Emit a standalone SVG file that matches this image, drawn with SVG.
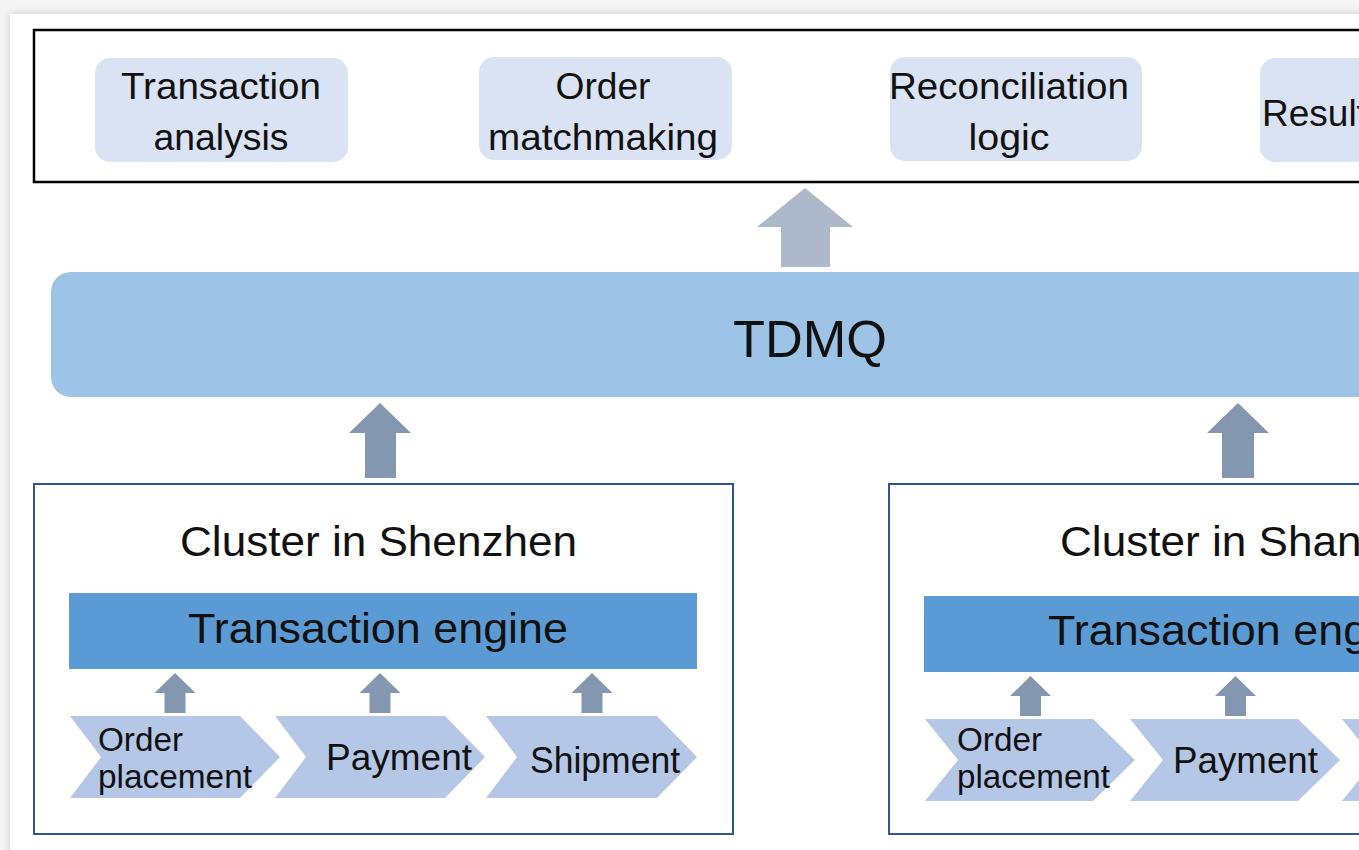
<svg xmlns="http://www.w3.org/2000/svg" width="1359" height="850" viewBox="0 0 1359 850">
<defs>
<filter id="shadow" x="-5%" y="-5%" width="110%" height="110%">
<feGaussianBlur in="SourceAlpha" stdDeviation="4"/>
<feOffset dx="0" dy="0" result="b"/>
<feComponentTransfer><feFuncA type="linear" slope="0.18"/></feComponentTransfer>
<feMerge><feMergeNode/><feMergeNode in="SourceGraphic"/></feMerge>
</filter>
</defs>
<style>
text{font-family:"Liberation Sans","Noto Sans",Arial,sans-serif;fill:#111;}
.top{fill:#dae3f3;}
.tl{font-size:37px;text-anchor:middle;}
.cluster{fill:#fff;stroke:#2f5597;stroke-width:2;}
.engine{fill:#5b9bd5;}
.chev{fill:#b4c7e7;}
.arrS{fill:#8497b0;}
.arrT{fill:#adb9ca;}
.ct{font-size:42px;}
.et{font-size:42px;}
.lb{font-size:36px;}
.lbs{font-size:33px;}
</style>
<rect x="0" y="0" width="1359" height="850" fill="#f4f4f4"/>
<rect x="10" y="14" width="1420" height="900" fill="#ffffff" filter="url(#shadow)"/>

<g id="app-layer">
<rect x="34" y="30" width="1400" height="152" fill="#fff" stroke="#000" stroke-width="2.5"/>
</g>
<g id="transaction-analysis">
<rect class="top" x="95" y="58" width="253" height="104" rx="15"/>
<text class="tl" x="221" y="99" textLength="200" lengthAdjust="spacingAndGlyphs">Transaction</text>
<text class="tl" x="221" y="150" textLength="135" lengthAdjust="spacingAndGlyphs">analysis</text>
</g>
<g id="order-matchmaking">
<rect class="top" x="479" y="57" width="253" height="103" rx="15"/>
<text class="tl" x="603" y="99" textLength="95" lengthAdjust="spacingAndGlyphs">Order</text>
<text class="tl" x="603" y="150" textLength="230" lengthAdjust="spacingAndGlyphs">matchmaking</text>
</g>
<g id="reconciliation-logic">
<rect class="top" x="890" y="57" width="252" height="104" rx="15"/>
<text class="tl" x="1009" y="99" textLength="240" lengthAdjust="spacingAndGlyphs">Reconciliation</text>
<text class="tl" x="1009" y="150" textLength="81" lengthAdjust="spacingAndGlyphs">logic</text>
</g>
<g id="result">
<rect class="top" x="1260" y="58" width="253" height="104" rx="15"/>
<text x="1262" y="126" style="font-size:37px">Result</text>
</g>

<g id="tdmq">
<rect x="51" y="272" width="1400" height="125" rx="20" fill="#9dc3e6"/>
<text x="810" y="357" style="font-size:52px;text-anchor:middle" textLength="154" lengthAdjust="spacingAndGlyphs">TDMQ</text>
</g>

<g id="cluster-shenzhen">
<rect class="cluster" x="34" y="484" width="699" height="350"/>
<text class="ct" x="378.5" y="556" text-anchor="middle" textLength="397" lengthAdjust="spacingAndGlyphs">Cluster in Shenzhen</text>
<rect class="engine" x="69" y="593" width="628" height="76"/>
<text class="et" x="378" y="643" text-anchor="middle" textLength="380" lengthAdjust="spacingAndGlyphs">Transaction engine</text>
<polygon class="chev" points="70,716 240,716 280,757 240,798 70,798 101,757"/>
<polygon class="chev" points="275,716 445,716 485,757 445,798 275,798 306,757"/>
<polygon class="chev" points="486,716 657,716 697,757 657,798 486,798 517,757"/>
<text class="lbs" x="98" y="751" textLength="85" lengthAdjust="spacingAndGlyphs">Order</text>
<text class="lbs" x="98" y="788" textLength="154" lengthAdjust="spacingAndGlyphs">placement</text>
<text class="lb" x="326" y="770" textLength="146" lengthAdjust="spacingAndGlyphs">Payment</text>
<text class="lb" x="530" y="773" textLength="150" lengthAdjust="spacingAndGlyphs">Shipment</text>
</g>

<g id="cluster-shanghai">
<rect class="cluster" x="889" y="484" width="699" height="350"/>
<text class="ct" x="1060" y="556" textLength="385" lengthAdjust="spacingAndGlyphs">Cluster in Shanghai</text>
<rect class="engine" x="924" y="596" width="628" height="76"/>
<text class="et" x="1048" y="645" textLength="380" lengthAdjust="spacingAndGlyphs">Transaction engine</text>
<polygon class="chev" points="925,719 1093,719 1135,760 1093,801 925,801 958,760"/>
<polygon class="chev" points="1130,719 1298,719 1340,760 1298,801 1130,801 1163,760"/>
<polygon class="chev" points="1342,719 1510,719 1552,760 1510,801 1342,801 1375,760"/>
<text class="lbs" x="957" y="751" textLength="85" lengthAdjust="spacingAndGlyphs">Order</text>
<text class="lbs" x="957" y="788" textLength="153" lengthAdjust="spacingAndGlyphs">placement</text>
<text class="lb" x="1173" y="773" textLength="145" lengthAdjust="spacingAndGlyphs">Payment</text>
</g>

<g id="connectors">
<polygon class="arrT" points="805,188 853,227 830,227 830,267 781,267 781,227 757,227"/>
<polygon class="arrS" points="380,403 411,433 396,433 396,478 365,478 365,433 349,433"/>
<polygon class="arrS" points="1238,403 1269,433 1254,433 1254,478 1222,478 1222,433 1207,433"/>
<polygon class="arrS" points="175,673 195.5,693 185.5,693 185.5,713 164.5,713 164.5,693 154.5,693"/>
<polygon class="arrS" points="380,673 400.5,693 390.5,693 390.5,713 369.5,713 369.5,693 359.5,693"/>
<polygon class="arrS" points="592,673 612.5,693 602.5,693 602.5,713 581.5,713 581.5,693 571.5,693"/>
<polygon class="arrS" points="1030.5,676 1051,696 1041,696 1041,716 1020,716 1020,696 1010,696"/>
<polygon class="arrS" points="1235.5,676 1256,696 1246,696 1246,716 1225,716 1225,696 1215,696"/>
</g>
</svg>
